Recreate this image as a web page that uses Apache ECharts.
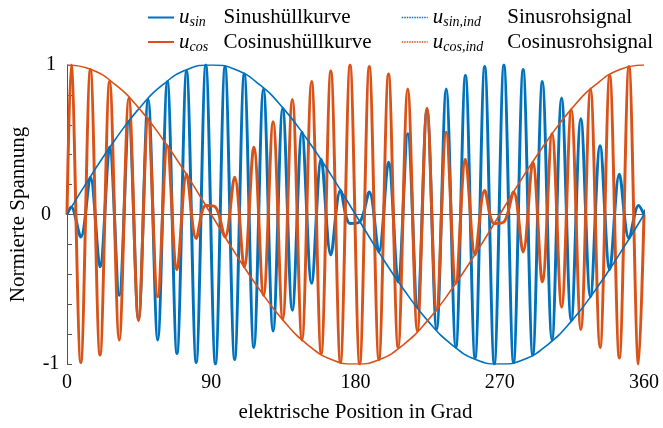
<!DOCTYPE html>
<html>
<head>
<meta charset="utf-8">
<script src="https://cdn.jsdelivr.net/npm/echarts@6/dist/echarts.min.js"></script>
<style>html,body{margin:0;padding:0;background:#fff}#c{width:663px;height:428px}</style>
</head>
<body>
<div id="c"></div>
<script>
// Envelope curves (read at 15° steps)
const envX = [0, 15, 30, 45, 60, 75, 90, 105, 120, 135, 150, 165, 180, 195, 210, 225, 240, 255, 270, 285, 300, 315, 330, 345, 360];
const sinEnv = [0, 0.26, 0.5, 0.71, 0.87, 0.97, 1, 0.97, 0.87, 0.71, 0.5, 0.26, 0, -0.26, -0.5, -0.71, -0.87, -0.97, -1, -0.97, -0.87, -0.71, -0.5, -0.26, 0];
const cosEnv = [1, 0.97, 0.87, 0.71, 0.5, 0.26, 0, -0.26, -0.5, -0.71, -0.87, -0.97, -1, -0.97, -0.87, -0.71, -0.5, -0.26, 0, 0.26, 0.5, 0.71, 0.87, 0.97, 1];

// Raw signals: positions of peaks/troughs (degrees) and values read there
const rawX = [0, 2.6, 8.6, 14.6, 20.6, 26.6, 32.6, 38.6, 44.6, 50.6, 56.6, 62.6, 68.6, 74.6, 80.6, 86.6, 92.6, 98.6, 104.6, 110.6, 116.6, 122.6, 128.6, 134.6, 140.6, 146.6, 152.6, 158.6, 164.6, 170.6, 176.6, 182.6, 188.6, 194.6, 200.6, 206.6, 212.6, 218.6, 224.6, 230.6, 236.6, 242.6, 248.6, 254.6, 260.6, 266.6, 272.6, 278.6, 284.6, 290.6, 296.6, 302.6, 308.6, 314.6, 320.6, 326.6, 332.6, 338.6, 344.6, 350.6, 356.6, 360];
const sinRaw = [0, 0.05, -0.15, 0.25, -0.35, 0.45, -0.54, 0.62, -0.70, 0.77, -0.84, 0.89, -0.93, 0.96, -0.99, 1.00, -1.00, 0.99, -0.97, 0.94, -0.89, 0.84, -0.78, 0.71, -0.64, 0.55, -0.46, 0.37, -0.27, 0.16, -0.06, -0.05, 0.15, -0.25, 0.35, -0.45, 0.54, -0.62, 0.70, -0.77, 0.84, -0.89, 0.93, -0.96, 0.99, -1.00, 1.00, -0.99, 0.97, -0.94, 0.89, -0.84, 0.78, -0.71, 0.64, -0.55, 0.46, -0.37, 0.27, -0.16, 0.06, 0];
const cosRaw = [0, 1.00, -0.99, 0.97, -0.94, 0.89, -0.84, 0.78, -0.71, 0.64, -0.55, 0.46, -0.37, 0.27, -0.16, 0.06, 0.05, -0.15, 0.25, -0.35, 0.45, -0.54, 0.62, -0.70, 0.77, -0.84, 0.89, -0.93, 0.96, -0.99, 1.00, -1.00, 0.99, -0.97, 0.94, -0.89, 0.84, -0.78, 0.71, -0.64, 0.55, -0.46, 0.37, -0.27, 0.16, -0.06, -0.05, 0.15, -0.25, 0.35, -0.45, 0.54, -0.62, 0.70, -0.77, 0.84, -0.89, 0.93, -0.96, 0.99, -1.00, 0];

const xTickLabels = ['0', '90', '180', '270', '360'];
const yTickLabels = ['-1', '0', '1'];

const seriesNames = ['u_sin', 'u_cos', 'u_sin,ind', 'u_cos,ind'];
const seriesSubs = ['sin', 'cos', 'sin,ind', 'cos,ind'];
const seriesTexts = ['Sinushüllkurve', 'Cosinushüllkurve', 'Sinusrohsignal', 'Cosinusrohsignal'];

const BLUE = '#0072BD', ORANGE = '#D95319';
const FONT = 'Liberation Serif';

const pair = (xs, ys) => xs.map((x, i) => [x, ys[i]]);

const rich = {
  u: {fontFamily: FONT, fontStyle: 'italic', fontSize: 21, lineHeight: 24, verticalAlign: 'middle', color: '#000'},
  s1: {fontFamily: FONT, fontStyle: 'italic', fontSize: 14, lineHeight: 14, verticalAlign: 'bottom', width: 34, color: '#000'},
  s2: {fontFamily: FONT, fontStyle: 'italic', fontSize: 14, lineHeight: 14, verticalAlign: 'bottom', width: 64, color: '#000'},
  t: {fontFamily: FONT, fontSize: 21, lineHeight: 24, verticalAlign: 'middle', color: '#000'}
};
const fmt = name => {
  const i = seriesNames.indexOf(name);
  const sk = i < 2 ? 's1' : 's2';
  return '{u|u}{' + sk + '|' + seriesSubs[i] + '}{t|' + seriesTexts[i] + '}';
};

const chart = echarts.init(document.getElementById('c'), null, {renderer: 'canvas'});
chart.setOption({
  animation: false,
  backgroundColor: '#fff',
  legend: [
    {data: [seriesNames[0], seriesNames[1]], orient: 'vertical', left: 142, top: 2, itemGap: 2,
     itemWidth: 26, itemHeight: 14, formatter: fmt, textStyle: {rich: rich}, selectedMode: false,
     itemStyle: {opacity: 0}, lineStyle: {width: 2}},
    {data: [seriesNames[2], seriesNames[3]], orient: 'vertical', left: 396, top: 2, itemGap: 2,
     itemWidth: 26, itemHeight: 14, formatter: fmt, textStyle: {rich: rich}, selectedMode: false,
     itemStyle: {opacity: 0}, lineStyle: {width: 1.5, type: [1.5, 1]}}
  ],
  grid: {left: 63, right: 19, top: 65, bottom: 63, containLabel: false},
  xAxis: {
    type: 'value', min: 0, max: 360, interval: 90,
    name: 'elektrische Position in Grad', nameLocation: 'middle', nameGap: 38,
    nameTextStyle: {fontFamily: FONT, fontSize: 21, color: '#000'},
    axisLine: {show: true, lineStyle: {color: '#555', width: 1}},
    axisTick: {show: true, inside: true, length: 5, lineStyle: {color: '#555'}},
    axisLabel: {fontFamily: FONT, fontSize: 20, color: '#000', margin: 9,
      alignMinLabel: 'center', alignMaxLabel: 'center',
      formatter: v => xTickLabels[Math.round(v / 90)] ?? ''},
    splitLine: {show: false}
  },
  yAxis: {
    type: 'value', min: -1, max: 1, interval: 0.2,
    name: 'Normierte Spannung', nameLocation: 'middle', nameGap: 38,
    nameTextStyle: {fontFamily: FONT, fontSize: 21, color: '#000'},
    axisLine: {show: true, lineStyle: {color: '#555', width: 1}},
    axisTick: {show: true, inside: true, length: 5, lineStyle: {color: '#555'}},
    axisLabel: {fontFamily: FONT, fontSize: 20, color: '#000', margin: 16,
      alignMinLabel: 'center', alignMaxLabel: 'center',
      formatter: v => {
        const r = Math.round(v);
        return Math.abs(v - r) < 1e-6 ? yTickLabels[r + 1] : '';
      }},
    splitLine: {show: false}
  },
  series: [
    {name: seriesNames[0], type: 'line', data: pair(envX, sinEnv), smooth: 0.5, symbol: 'none', z: 5,
     lineStyle: {color: BLUE, width: 1.6}, itemStyle: {color: BLUE}},
    {name: seriesNames[1], type: 'line', data: pair(envX, cosEnv), smooth: 0.5, symbol: 'none', z: 5,
     lineStyle: {color: ORANGE, width: 1.6}, itemStyle: {color: ORANGE}},
    {name: seriesNames[2], type: 'line', data: pair(rawX, sinRaw), smooth: 0.35, symbol: 'none', z: 2,
     lineStyle: {color: BLUE, width: 3}, itemStyle: {color: BLUE}},
    {name: seriesNames[3], type: 'line', data: pair(rawX, cosRaw), smooth: 0.35, symbol: 'none', z: 3,
     lineStyle: {color: ORANGE, width: 3}, itemStyle: {color: ORANGE}}
  ]
});
</script>
</body>
</html>
